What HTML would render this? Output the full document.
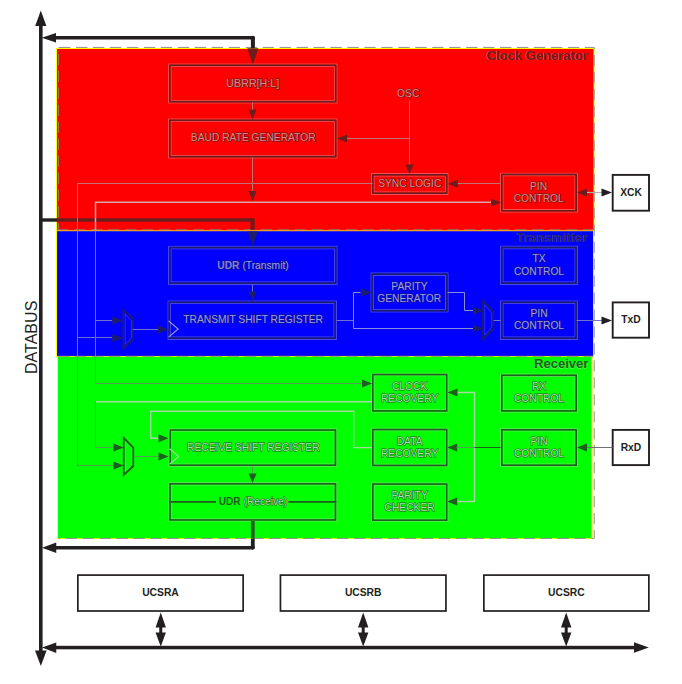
<!DOCTYPE html>
<html><head><meta charset="utf-8"><style>
html,body{margin:0;padding:0;background:#fff;}
body{width:682px;height:684px;overflow:hidden;}
svg{display:block;font-family:"Liberation Sans",sans-serif;}
</style></head><body>
<svg width="682" height="684" viewBox="0 0 682 684">
<rect width="682" height="684" fill="#fff"/>
<rect x="56" y="48" width="538.5" height="183" fill="#ffff00"/>
<rect x="57" y="49" width="536.5" height="181" fill="#ff0000"/>
<rect x="57" y="229.9" width="536.5" height="1.3" fill="#f39a1a"/>
<rect x="56" y="231" width="538" height="126" fill="#ffff00"/>
<rect x="57" y="231.2" width="536" height="124.9" fill="#0000ff"/>
<rect x="57" y="355.9" width="536" height="1" fill="#8a9a50"/>
<rect x="57" y="356.2" width="535.5" height="182.8" fill="#ffff00"/>
<rect x="58" y="356.9" width="533.2" height="181.3" fill="#00ff00"/>
<g fill="none" stroke="#8c8c8c" stroke-width="1" stroke-dasharray="11.3 5.66">
<path d="M59.1,47.4 H594.2"/>
<path d="M594.2,47.4 V538.4" stroke-dashoffset="9.34"/>
<path d="M594.2,538.4 H58.5" stroke-dashoffset="8.5"/>
<path d="M58.5,229.4 V47.4" stroke-dashoffset="5.2" opacity="0.8"/>
<path d="M57.2,229.4 H593.5" stroke="#a06868" stroke-width="0.9"/>
<path d="M58.1,356.4 H593" stroke="#8a9a60" stroke-width="0.9"/>
</g>
<g fill="#231f20" stroke="none">
<rect x="39" y="24" width="3.6" height="628"/>
<polygon points="40.8,10.5 35.2,26 46.4,26"/>
<polygon points="40.8,666 35,650.5 46.6,650.5"/>
<rect x="54" y="36" width="199.5" height="3.5"/>
<polygon points="41.7,37.75 56,33 56,42.5"/>
<rect x="250.9" y="37" width="4" height="11.2"/>
<circle cx="252.9" cy="38" r="2.2"/>
<rect x="54" y="546" width="199" height="3.5"/>
<polygon points="42,547.75 56.25,542.5 56.25,553"/>
<rect x="250.9" y="538.5" width="3.8" height="10"/>
<circle cx="252.8" cy="547.6" r="2.1"/>
<rect x="54" y="645.8" width="582" height="3.5"/>
<polygon points="42,647.5 56.25,642.5 56.25,653"/>
<polygon points="648.8,647.5 634,642.3 634,652.7"/>
<rect x="159.25" y="620" width="3" height="18"/>
<polygon points="160.75,612.5 155.55,627.5 165.95,627.5"/>
<polygon points="160.75,646.5 155.55,632.5 165.95,632.5"/>
<rect x="361.7" y="620" width="3" height="18"/>
<polygon points="363.2,612.5 358.0,627.5 368.4,627.5"/>
<polygon points="363.2,646.5 358.0,632.5 368.4,632.5"/>
<rect x="564.7" y="620" width="3" height="18"/>
<polygon points="566.2,612.5 561.0,627.5 571.4000000000001,627.5"/>
<polygon points="566.2,646.5 561.0,632.5 571.4000000000001,632.5"/>
<rect x="40" y="218.3" width="17" height="3.4"/>
</g>
<rect x="77.85" y="575.1" width="165.3" height="35.9" fill="#fff" stroke="#231f20" stroke-width="1.7"/>
<text x="160.5" y="596" font-size="10.3" text-anchor="middle" font-weight="bold" fill="#231f20">UCSRA</text>
<rect x="280.45000000000005" y="575.1" width="165.5" height="35.9" fill="#fff" stroke="#231f20" stroke-width="1.7"/>
<text x="363.20000000000005" y="596" font-size="10.3" text-anchor="middle" font-weight="bold" fill="#231f20">UCSRB</text>
<rect x="483.85" y="575.1" width="165.00000000000006" height="35.9" fill="#fff" stroke="#231f20" stroke-width="1.7"/>
<text x="566.35" y="596" font-size="10.3" text-anchor="middle" font-weight="bold" fill="#231f20">UCSRC</text>
<rect x="612.7" y="174.9" width="36.3" height="35.8" fill="#fff" stroke="#231f20" stroke-width="1.9"/>
<text x="631" y="196.2" font-size="10.3" text-anchor="middle" font-weight="bold" fill="#231f20">XCK</text>
<rect x="612.7" y="302.4" width="36.3" height="35.300000000000026" fill="#fff" stroke="#231f20" stroke-width="1.9"/>
<text x="631" y="323.2" font-size="10.3" text-anchor="middle" font-weight="bold" fill="#231f20">TxD</text>
<rect x="612.7" y="429.9" width="36.3" height="35.2" fill="#fff" stroke="#231f20" stroke-width="1.9"/>
<text x="631" y="450.6" font-size="10.3" text-anchor="middle" font-weight="bold" fill="#231f20">RxD</text>
<rect x="57" y="218.3" width="196" height="3.4" fill="#6b1d1d"/>
<rect x="250.5" y="219" width="4.1" height="10.9" fill="#6b1d1d"/>
<circle cx="252.6" cy="220" r="2.1" fill="#6b1d1d"/>
<polygon points="252.9,64.7 247.4,48.2 258.4,48.2" fill="#6b1d1d"/>
<rect x="168.55" y="64.05" width="168.4" height="38.9" fill="none" stroke="#e8a8a8" stroke-width="0.9" opacity="0.5"/>
<rect x="171.05" y="66.55" width="163.4" height="33.9" fill="none" stroke="#e8a8a8" stroke-width="0.9" opacity="0.5"/>
<rect x="169.8" y="65.3" width="165.9" height="36.4" fill="none" stroke="#6b1d1d" stroke-width="1.6"/>
<rect x="168.55" y="119.05" width="168.4" height="38.9" fill="none" stroke="#e8a8a8" stroke-width="0.9" opacity="0.5"/>
<rect x="171.05" y="121.55" width="163.4" height="33.9" fill="none" stroke="#e8a8a8" stroke-width="0.9" opacity="0.5"/>
<rect x="169.8" y="120.3" width="165.9" height="36.4" fill="none" stroke="#6b1d1d" stroke-width="1.6"/>
<rect x="371.55" y="173.55" width="76.4" height="20.9" fill="none" stroke="#e8a8a8" stroke-width="0.9" opacity="0.5"/>
<rect x="374.05" y="176.05" width="71.4" height="15.9" fill="none" stroke="#e8a8a8" stroke-width="0.9" opacity="0.5"/>
<rect x="372.8" y="174.8" width="73.9" height="18.4" fill="none" stroke="#6b1d1d" stroke-width="1.6"/>
<rect x="500.55" y="173.25" width="76.9" height="38.800000000000004" fill="none" stroke="#e8a8a8" stroke-width="0.9" opacity="0.5"/>
<rect x="503.05" y="175.75" width="71.9" height="33.800000000000004" fill="none" stroke="#e8a8a8" stroke-width="0.9" opacity="0.5"/>
<rect x="501.8" y="174.5" width="74.4" height="36.300000000000004" fill="none" stroke="#6b1d1d" stroke-width="1.6"/>
<text x="252.75" y="87.1" font-size="10.7" text-anchor="middle" font-weight="normal" fill="#dc8c8c" stroke="#621616" stroke-width="1.0" paint-order="stroke">UBRR[H:L]</text>
<text x="253.2" y="140.9" font-size="10.25" text-anchor="middle" font-weight="normal" fill="#dc8c8c" stroke="#621616" stroke-width="1.0" paint-order="stroke">BAUD RATE GENERATOR</text>
<text x="409.75" y="187.4" font-size="10.25" text-anchor="middle" font-weight="normal" fill="#dc8c8c" stroke="#621616" stroke-width="1.0" paint-order="stroke">SYNC LOGIC</text>
<text x="538.5" y="189.9" font-size="10.25" text-anchor="middle" font-weight="normal" fill="#dc8c8c" stroke="#621616" stroke-width="1.0" paint-order="stroke">PIN</text>
<text x="538.7" y="201.7" font-size="10.25" text-anchor="middle" font-weight="normal" fill="#dc8c8c" stroke="#621616" stroke-width="1.0" paint-order="stroke">CONTROL</text>
<text x="408.2" y="96.7" font-size="10.25" text-anchor="middle" font-weight="normal" fill="#dc8c8c" stroke="#621616" stroke-width="1.0" paint-order="stroke">OSC</text>
<text x="587.2" y="60.3" font-size="13" text-anchor="end" font-weight="bold" fill="#f0b0b0" opacity="0.55">Clock Generator</text>
<text x="587.7" y="59.8" font-size="13" text-anchor="end" font-weight="bold" fill="#6b1d1d">Clock Generator</text>
<path d="M252.5,102.5 L252.5,110.5" fill="none" stroke="#c07070" stroke-width="1.0"/>
<polygon points="252.5,119.5 248.5,109.5 256.5,109.5" fill="#6b1d1d"/>
<path d="M252.5,157.5 L252.5,192.5" fill="none" stroke="#c07070" stroke-width="1.0"/>
<polygon points="252.5,201.5 248.5,191.0 256.5,191.0" fill="#6b1d1d"/>
<path d="M409.5,100.5 L409.5,166.5" fill="none" stroke="#c07070" stroke-width="1.0"/>
<polygon points="409.5,174 405.5,164.5 413.5,164.5" fill="#6b1d1d"/>
<path d="M409.5,138.5 L346.5,138.5" fill="none" stroke="#c07070" stroke-width="1.0"/>
<polygon points="337,138.5 347,134.5 347,142.5" fill="#6b1d1d"/>
<path d="M500.5,183.5 L456.5,183.5" fill="none" stroke="#c07070" stroke-width="1.0"/>
<polygon points="447.8,183.75 457.8,179.75 457.8,187.75" fill="#6b1d1d"/>
<path d="M372.5,183.5 L77.5,183.5 L77.5,230.5" fill="none" stroke="#c07070" stroke-width="1.0"/>
<path d="M491,202.3 L95.5,202.3 L95.5,231" fill="none" stroke="#d8a8a8" stroke-width="1.5"/>
<polygon points="501,202.5 491,198.5 491,206.5" fill="#6b1d1d"/>
<path d="M586.5,192.5 L602.5,192.5" fill="none" stroke="#b0b0b0" stroke-width="1.2"/>
<polygon points="577,192.6 587,188.6 587,196.6" fill="#6b1d1d"/>
<polygon points="612,192.6 601.5,188.6 601.5,196.6" fill="#231f20"/>
<polygon points="252.7,246.5 247.7,231.5 257.7,231.5" fill="#1d1d6b"/>
<rect x="168.55" y="246.3" width="168.4" height="38.15" fill="none" stroke="#9c9ce8" stroke-width="0.9" opacity="0.5"/>
<rect x="171.05" y="248.8" width="163.4" height="33.15" fill="none" stroke="#9c9ce8" stroke-width="0.9" opacity="0.5"/>
<rect x="169.8" y="247.55" width="165.9" height="35.65" fill="none" stroke="#1d1d6b" stroke-width="1.6"/>
<rect x="168.05" y="301.05" width="168.4" height="38.4" fill="none" stroke="#9c9ce8" stroke-width="0.9" opacity="0.5"/>
<rect x="170.55" y="303.55" width="163.4" height="33.4" fill="none" stroke="#9c9ce8" stroke-width="0.9" opacity="0.5"/>
<rect x="169.3" y="302.3" width="165.9" height="35.9" fill="none" stroke="#1d1d6b" stroke-width="1.6"/>
<rect x="371.05" y="272.95" width="77.00000000000003" height="39.00000000000002" fill="none" stroke="#9c9ce8" stroke-width="0.9" opacity="0.5"/>
<rect x="373.55" y="275.45" width="72.00000000000003" height="34.00000000000002" fill="none" stroke="#9c9ce8" stroke-width="0.9" opacity="0.5"/>
<rect x="372.3" y="274.2" width="74.50000000000003" height="36.50000000000002" fill="none" stroke="#1d1d6b" stroke-width="1.6"/>
<rect x="500.55" y="246.25" width="76.9" height="38.20000000000001" fill="none" stroke="#9c9ce8" stroke-width="0.9" opacity="0.5"/>
<rect x="503.05" y="248.75" width="71.9" height="33.20000000000001" fill="none" stroke="#9c9ce8" stroke-width="0.9" opacity="0.5"/>
<rect x="501.8" y="247.5" width="74.4" height="35.70000000000001" fill="none" stroke="#1d1d6b" stroke-width="1.6"/>
<rect x="500.55" y="301.05" width="76.9" height="38.4" fill="none" stroke="#9c9ce8" stroke-width="0.9" opacity="0.5"/>
<rect x="503.05" y="303.55" width="71.9" height="33.4" fill="none" stroke="#9c9ce8" stroke-width="0.9" opacity="0.5"/>
<rect x="501.8" y="302.3" width="74.4" height="35.9" fill="none" stroke="#1d1d6b" stroke-width="1.6"/>
<text x="253" y="268.9" font-size="10.25" text-anchor="middle" fill="#1d1d6b"><tspan font-weight="bold" fill="#8080d8" stroke="#18186a" stroke-width="1.0" paint-order="stroke">UDR</tspan> <tspan fill="#9c9cec" stroke="#18186a" stroke-width="1.0" paint-order="stroke">(Transmit)</tspan></text>
<path d="M252.5,284.5 L252.5,292.5" fill="none" stroke="#7272c4" stroke-width="1.0"/>
<polygon points="252.5,301.5 248.5,291.5 256.5,291.5" fill="#1d1d6b"/>
<text x="253.15" y="323" font-size="10.25" text-anchor="middle" font-weight="normal" fill="#9c9cec" stroke="#18186a" stroke-width="1.0" paint-order="stroke">TRANSMIT SHIFT REGISTER</text>
<text x="409.5" y="289.6" font-size="10.25" text-anchor="middle" font-weight="normal" fill="#9c9cec" stroke="#18186a" stroke-width="1.0" paint-order="stroke">PARITY</text>
<text x="409.25" y="302.2" font-size="10.25" text-anchor="middle" font-weight="normal" fill="#9c9cec" stroke="#18186a" stroke-width="1.0" paint-order="stroke">GENERATOR</text>
<text x="539" y="262" font-size="10.25" text-anchor="middle" font-weight="normal" fill="#9c9cec" stroke="#18186a" stroke-width="1.0" paint-order="stroke">TX</text>
<text x="539" y="275" font-size="10.25" text-anchor="middle" font-weight="normal" fill="#9c9cec" stroke="#18186a" stroke-width="1.0" paint-order="stroke">CONTROL</text>
<text x="539" y="317" font-size="10.25" text-anchor="middle" font-weight="normal" fill="#9c9cec" stroke="#18186a" stroke-width="1.0" paint-order="stroke">PIN</text>
<text x="539" y="329.3" font-size="10.25" text-anchor="middle" font-weight="normal" fill="#9c9cec" stroke="#18186a" stroke-width="1.0" paint-order="stroke">CONTROL</text>
<text x="587.3" y="242.4" font-size="13" text-anchor="end" font-weight="bold" fill="#a8a8f0" opacity="0.55">Transmitter</text>
<text x="587.8" y="241.9" font-size="13" text-anchor="end" font-weight="bold" fill="#1d1d6b">Transmitter</text>
<path d="M77.5,230.5 L77.5,356.5" fill="none" stroke="#7272c4" stroke-width="1.0"/>
<path d="M95.5,230.5 L95.5,356.5" fill="none" stroke="#7272c4" stroke-width="1.0"/>
<path d="M95.5,320.5 L112.5,320.5" fill="none" stroke="#7272c4" stroke-width="1.0"/>
<polygon points="122.8,320.4 112.3,316.4 112.3,324.4" fill="#1d1d6b"/>
<path d="M77.5,337.5 L112.5,337.5" fill="none" stroke="#7272c4" stroke-width="1.0"/>
<polygon points="122.8,337.9 112.3,333.9 112.3,341.9" fill="#1d1d6b"/>
<polygon points="125.1,313.8 131.4,320.8 131.4,338.0 125.1,344.4" fill="none" stroke="#9c9ce8" stroke-width="0.8" opacity="0.35"/>
<polygon points="123.3,310.2 133,319 133,339.8 123.3,348" fill="none" stroke="#1d1d6b" stroke-width="1.8"/>
<path d="M132.5,329.5 L158.5,329.5" fill="none" stroke="#7272c4" stroke-width="1.0"/>
<polygon points="168.5,329.4 158.0,325.4 158.0,333.4" fill="#1d1d6b"/>
<path d="M168.5,320.8 L178.2,329.0 L168.5,337.2" fill="none" stroke="#9c9ce8" stroke-width="1.1"/>
<path d="M336.5,320.5 L353.5,320.5" fill="none" stroke="#7272c4" stroke-width="1.0"/>
<path d="M360.5,292.5 L353.5,292.5 L353.5,328.5 L474.5,328.5" fill="none" stroke="#8c8cd8" stroke-width="1.0"/>
<polygon points="371.5,292.6 361.2,288.6 361.2,296.6" fill="#1d1d6b"/>
<polygon points="483,328.5 473,324.5 473,332.5" fill="#1d1d6b"/>
<path d="M447.5,292.5 L464.5,292.5 L464.5,310.5 L474.5,310.5" fill="none" stroke="#8c8cd8" stroke-width="1.0"/>
<polygon points="483,310.7 473,306.7 473,314.7" fill="#1d1d6b"/>
<polygon points="484.8,304.8 491.7,313.3 491.7,327.2 484.8,335.2" fill="none" stroke="#9c9ce8" stroke-width="0.8" opacity="0.35"/>
<polygon points="483,301.2 493.3,311.5 493.3,329 483,338.8" fill="none" stroke="#1d1d6b" stroke-width="1.8"/>
<path d="M493.5,320.5 L500.5,320.5" fill="none" stroke="#7272c4" stroke-width="1.0"/>
<path d="M576.5,320.5 L602.5,320.5" fill="none" stroke="#7272c4" stroke-width="1.0"/>
<polygon points="612,320.5 601.5,316.5 601.5,324.5" fill="#231f20"/>
<rect x="371.55" y="373.3" width="76.4" height="38.9" fill="none" stroke="#a8d8a0" stroke-width="0.9" opacity="0.5"/>
<rect x="374.05" y="375.8" width="71.4" height="33.9" fill="none" stroke="#a8d8a0" stroke-width="0.9" opacity="0.5"/>
<rect x="372.8" y="374.55" width="73.9" height="36.4" fill="none" stroke="#1e5e1e" stroke-width="1.6"/>
<rect x="500.55" y="374.05" width="76.9" height="38.09999999999999" fill="none" stroke="#a8d8a0" stroke-width="0.9" opacity="0.5"/>
<rect x="503.05" y="376.55" width="71.9" height="33.09999999999999" fill="none" stroke="#a8d8a0" stroke-width="0.9" opacity="0.5"/>
<rect x="501.8" y="375.3" width="74.4" height="35.59999999999999" fill="none" stroke="#1e5e1e" stroke-width="1.6"/>
<rect x="169.05" y="428.8" width="167.65" height="37.65" fill="none" stroke="#a8d8a0" stroke-width="0.9" opacity="0.5"/>
<rect x="171.55" y="431.3" width="162.65" height="32.65" fill="none" stroke="#a8d8a0" stroke-width="0.9" opacity="0.5"/>
<rect x="170.3" y="430.05" width="165.15" height="35.15" fill="none" stroke="#1e5e1e" stroke-width="1.6"/>
<rect x="371.55" y="428.3" width="76.4" height="38.4" fill="none" stroke="#a8d8a0" stroke-width="0.9" opacity="0.5"/>
<rect x="374.05" y="430.8" width="71.4" height="33.4" fill="none" stroke="#a8d8a0" stroke-width="0.9" opacity="0.5"/>
<rect x="372.8" y="429.55" width="73.9" height="35.9" fill="none" stroke="#1e5e1e" stroke-width="1.6"/>
<rect x="500.55" y="428.55" width="76.9" height="37.9" fill="none" stroke="#a8d8a0" stroke-width="0.9" opacity="0.5"/>
<rect x="503.05" y="431.05" width="71.9" height="32.9" fill="none" stroke="#a8d8a0" stroke-width="0.9" opacity="0.5"/>
<rect x="501.8" y="429.8" width="74.4" height="35.4" fill="none" stroke="#1e5e1e" stroke-width="1.6"/>
<rect x="168.8" y="482.55" width="167.9" height="38.65" fill="none" stroke="#a8d8a0" stroke-width="0.9" opacity="0.5"/>
<rect x="171.3" y="485.05" width="162.9" height="33.65" fill="none" stroke="#a8d8a0" stroke-width="0.9" opacity="0.5"/>
<rect x="170.05" y="483.8" width="165.4" height="36.15" fill="none" stroke="#1e5e1e" stroke-width="1.6"/>
<rect x="371.55" y="482.8" width="76.4" height="38.65" fill="none" stroke="#a8d8a0" stroke-width="0.9" opacity="0.5"/>
<rect x="374.05" y="485.3" width="71.4" height="33.65" fill="none" stroke="#a8d8a0" stroke-width="0.9" opacity="0.5"/>
<rect x="372.8" y="484.05" width="73.9" height="36.15" fill="none" stroke="#1e5e1e" stroke-width="1.6"/>
<text x="253.35" y="451" font-size="10.25" text-anchor="middle" font-weight="normal" fill="#a8e0a8" stroke="#1c5a1c" stroke-width="1.0" paint-order="stroke">RECEIVE SHIFT REGISTER</text>
<text x="409.6" y="390" font-size="10.25" text-anchor="middle" font-weight="normal" fill="#a8e0a8" stroke="#1c5a1c" stroke-width="1.0" paint-order="stroke">CLOCK</text>
<text x="409.6" y="401.7" font-size="10.25" text-anchor="middle" font-weight="normal" fill="#a8e0a8" stroke="#1c5a1c" stroke-width="1.0" paint-order="stroke">RECOVERY</text>
<text x="409.6" y="445.4" font-size="10.25" text-anchor="middle" font-weight="normal" fill="#a8e0a8" stroke="#1c5a1c" stroke-width="1.0" paint-order="stroke">DATA</text>
<text x="409.6" y="457.1" font-size="10.25" text-anchor="middle" font-weight="normal" fill="#a8e0a8" stroke="#1c5a1c" stroke-width="1.0" paint-order="stroke">RECOVERY</text>
<text x="409.6" y="499.3" font-size="10.25" text-anchor="middle" font-weight="normal" fill="#a8e0a8" stroke="#1c5a1c" stroke-width="1.0" paint-order="stroke">PARITY</text>
<text x="409.6" y="511" font-size="10.25" text-anchor="middle" font-weight="normal" fill="#a8e0a8" stroke="#1c5a1c" stroke-width="1.0" paint-order="stroke">CHECKER</text>
<text x="539" y="390" font-size="10.25" text-anchor="middle" font-weight="normal" fill="#a8e0a8" stroke="#1c5a1c" stroke-width="1.0" paint-order="stroke">RX</text>
<text x="539" y="401.7" font-size="10.25" text-anchor="middle" font-weight="normal" fill="#a8e0a8" stroke="#1c5a1c" stroke-width="1.0" paint-order="stroke">CONTROL</text>
<text x="539" y="445.4" font-size="10.25" text-anchor="middle" font-weight="normal" fill="#a8e0a8" stroke="#1c5a1c" stroke-width="1.0" paint-order="stroke">PIN</text>
<text x="539" y="457.1" font-size="10.25" text-anchor="middle" font-weight="normal" fill="#a8e0a8" stroke="#1c5a1c" stroke-width="1.0" paint-order="stroke">CONTROL</text>
<text x="587.8" y="368.6" font-size="13" text-anchor="end" font-weight="bold" fill="#b0e0b0" opacity="0.55">Receiver</text>
<text x="588.3" y="368.1" font-size="13" text-anchor="end" font-weight="bold" fill="#1e5e1e">Receiver</text>
<path d="M169.25,501.9 L216,501.9" fill="none" stroke="#1e5e1e" stroke-width="1.7"/>
<path d="M288.5,501.9 L336.25,501.9" fill="none" stroke="#1e5e1e" stroke-width="1.7"/>
<text x="252.9" y="504.8" font-size="10.2" text-anchor="middle" fill="#1e5e1e"><tspan font-weight="bold">UDR</tspan> <tspan fill="#a8e0a8" stroke="#1c5a1c" stroke-width="1.0" paint-order="stroke">(Receive)</tspan></text>
<path d="M77.5,356.5 L77.5,465.5 L112.5,465.5" fill="none" stroke="#50a050" stroke-width="1.0"/>
<polygon points="123.75,465.5 113.45,461.5 113.45,469.5" fill="#1e5e1e"/>
<path d="M95.5,356.5 L95.5,383.5 L362.5,383.5" fill="none" stroke="#50a050" stroke-width="1.0"/>
<polygon points="372,383.6 362,379.6 362,387.6" fill="#1e5e1e"/>
<path d="M372,401.75 L95.5,401.75" fill="none" stroke="#a8d8a0" stroke-width="1.5"/>
<path d="M95.5,401.5 L95.5,447.5 L112.5,447.5" fill="none" stroke="#50a050" stroke-width="1.0"/>
<polygon points="123.75,447.5 113.45,443.5 113.45,451.5" fill="#1e5e1e"/>
<path d="M158,438.25 L150.75,438.25 L150.75,411.25 L353.75,411.25 L353.75,447.6 L372,447.6" fill="none" stroke="#a8d8a0" stroke-width="1.3"/>
<polygon points="168.5,438.25 158.5,434.25 158.5,442.25" fill="#1e5e1e"/>
<polygon points="125.55,441.6 131.65,449.3 131.65,464.2 125.55,471.4" fill="none" stroke="#a8d8a0" stroke-width="0.8" opacity="0.35"/>
<polygon points="123.75,438 133.25,447.5 133.25,466 123.75,475" fill="none" stroke="#1e5e1e" stroke-width="1.8"/>
<path d="M133.5,456.5 L158.5,456.5" fill="none" stroke="#50a050" stroke-width="1.0"/>
<polygon points="168.5,456.5 158.5,452.5 158.5,460.5" fill="#1e5e1e"/>
<path d="M169.5,448.75 L178.75,456.5 L169.5,464.25" fill="none" stroke="#a8d8a0" stroke-width="1.1"/>
<path d="M252.5,466.5 L252.5,474.5" fill="none" stroke="#50a050" stroke-width="1.0"/>
<polygon points="252.5,483 248.5,473.5 256.5,473.5" fill="#1e5e1e"/>
<rect x="250.9" y="521" width="3.8" height="17.5" fill="#1e5e1e"/>
<path d="M457,392.5 L474.5,392.5 L474.5,501.5 L457,501.5" fill="none" stroke="#a8d8a0" stroke-width="1.5"/>
<polygon points="447.5,392.5 457.5,388.5 457.5,396.5" fill="#1e5e1e"/>
<polygon points="447.2,447.5 457.2,443.5 457.2,451.5" fill="#1e5e1e"/>
<polygon points="447.2,501.5 457.2,497.5 457.2,505.5" fill="#1e5e1e"/>
<path d="M456.5,447.5 L474.5,447.5" fill="none" stroke="#50a050" stroke-width="1.0"/>
<path d="M474.5,447.5 L500.5,447.5" fill="none" stroke="#1e5e1e" stroke-width="1.0"/>
<path d="M586.5,447.5 L612.5,447.5" fill="none" stroke="#707070" stroke-width="1.0"/>
<polygon points="577,447.5 587,443.5 587,451.5" fill="#1e5e1e"/>
<text x="0" y="0" font-size="16.4" fill="#231f20" text-anchor="middle" transform="translate(36.5,337.35) rotate(-90) scale(0.98,1)">DATABUS</text>
</svg>
</body></html>
